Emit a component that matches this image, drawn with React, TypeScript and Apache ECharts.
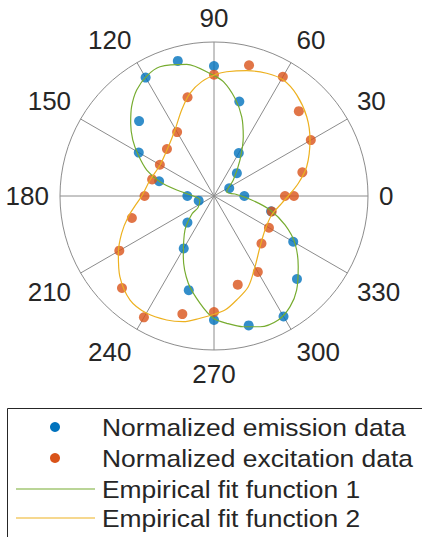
import React, { useEffect, useRef } from "react";
import * as echarts from "echarts";

// Measured emission intensities (normalized), by polarisation angle in degrees
const emissionAngles = [0, 27, 45, 60, 75, 90, 105, 120, 135, 150, 165, 180, 197, 225, 240, 255, 270, 285, 300, 315, 330, 345];
const emissionValues = [0.197, 0.111, 0.21, 0.322, 0.635, 0.844, 0.908, 0.888, 0.688, 0.564, 0.369, 0.173, 0.104, 0.244, 0.393, 0.633, 0.805, 0.87, 0.903, 0.762, 0.594, 0.384];

// Measured excitation intensities (normalized)
const excitationAngles = [0, 15, 30, 45, 60, 75, 90, 105, 120, 135, 150, 165, 180, 195, 210, 225, 240, 255, 270, 285, 300, 315, 330, 345, 360];
const excitationValues = [0.461, 0.594, 0.726, 0.779, 0.894, 0.879, 0.788, 0.664, 0.479, 0.432, 0.406, 0.416, 0.451, 0.552, 0.71, 0.845, 0.91, 0.794, 0.753, 0.596, 0.569, 0.436, 0.412, 0.388, 0.519];

// Empirical fit 1 (emission), sampled along the curve
const fit1Angles = [5.4, 18.7, 39.7, 54.2, 63.7, 70.7, 77.9, 85.3, 90.5, 101.7, 112.7, 119.3, 126.1, 132.7, 138.9, 145.4, 151.6, 158.9, 165.2, 170.9, 180, 196, 216, 219, 229.5, 243.2, 253.6, 262.6, 269.7, 275.7, 282.6, 289.4, 297.4, 304.5, 311.3, 320, 329.7, 337.8, 346, 354, 5.4];
const fit1Values = [0.137, 0.087, 0.163, 0.288, 0.429, 0.545, 0.649, 0.745, 0.785, 0.873, 0.91, 0.893, 0.852, 0.789, 0.718, 0.641, 0.559, 0.468, 0.363, 0.245, 0.134, 0.095, 0.129, 0.183, 0.29, 0.442, 0.591, 0.703, 0.794, 0.831, 0.87, 0.9, 0.907, 0.872, 0.813, 0.714, 0.609, 0.498, 0.375, 0.246, 0.137];

// Empirical fit 2 (excitation), sampled along the curve
const fit2Angles = [0, 8.6, 17.5, 30.3, 40.5, 50.7, 59.1, 66.8, 75.4, 84.2, 88.7, 96.1, 103.2, 110.6, 120.6, 132.8, 150.1, 166, 179.2, 185.4, 193.6, 202, 210.9, 220.6, 231.1, 240.2, 249.1, 256.3, 263.5, 269, 275.7, 282.3, 290.7, 300.1, 312.2, 326.3, 341.8, 353.8, 360];
const fit2Values = [0.482, 0.554, 0.631, 0.722, 0.792, 0.848, 0.877, 0.867, 0.841, 0.811, 0.792, 0.747, 0.685, 0.597, 0.498, 0.436, 0.404, 0.428, 0.465, 0.504, 0.573, 0.647, 0.724, 0.805, 0.868, 0.878, 0.862, 0.84, 0.799, 0.773, 0.743, 0.691, 0.63, 0.531, 0.445, 0.398, 0.394, 0.442, 0.482];

const seriesNames = [
  "Normalized emission data",
  "Normalized excitation data",
  "Empirical fit function 1",
  "Empirical fit function 2",
];

const BLUE = "#0072BD";
const ORANGE = "#D95319";
const GREEN = "#77AC30";
const YELLOW = "#EDB120";
const GRID = "#8c8c8c";
const TEXT = "#262626";
const FONT = '"Liberation Sans", Arial, Helvetica, sans-serif';

const toPolar = (angles: number[], values: number[]) =>
  angles.map((a, i) => [values[i], a]);

export default function App() {
  const ref = useRef<HTMLDivElement>(null);

  useEffect(() => {
    if (!ref.current) return;
    const chart = echarts.init(ref.current, undefined, { renderer: "svg" });

    const legendRows = [427, 458, 489, 518];

    chart.setOption({
      animation: false,
      backgroundColor: "#ffffff",
      polar: { center: [214, 196], radius: 154 },
      angleAxis: {
        type: "value",
        min: 0,
        max: 360,
        interval: 30,
        startAngle: 0,
        clockwise: false,
        axisLine: { show: true, lineStyle: { color: GRID, width: 1 } },
        axisTick: { show: false },
        axisLabel: {
          margin: 11,
          fontSize: 26,
          fontFamily: FONT,
          color: TEXT,
          formatter: (v: number) => (v >= 360 ? "" : String(v)),
        },
        splitLine: { show: true, lineStyle: { color: GRID, width: 1 } },
      },
      radiusAxis: {
        type: "value",
        min: 0,
        max: 1,
        axisLine: { show: false },
        axisTick: { show: false },
        axisLabel: { show: false },
        splitLine: { show: false },
      },
      series: [
        {
          name: seriesNames[0],
          type: "scatter",
          coordinateSystem: "polar",
          symbolSize: 10,
          itemStyle: { color: BLUE },
          data: toPolar(emissionAngles, emissionValues),
        },
        {
          name: seriesNames[1],
          type: "scatter",
          coordinateSystem: "polar",
          symbolSize: 10,
          itemStyle: { color: ORANGE },
          data: toPolar(excitationAngles, excitationValues),
        },
        {
          name: seriesNames[2],
          type: "line",
          coordinateSystem: "polar",
          showSymbol: false,
          symbol: "none",
          smooth: 0.3,
          lineStyle: { color: GREEN, width: 1.2 },
          data: toPolar(fit1Angles, fit1Values),
        },
        {
          name: seriesNames[3],
          type: "line",
          coordinateSystem: "polar",
          showSymbol: false,
          symbol: "none",
          smooth: 0.3,
          lineStyle: { color: YELLOW, width: 1.2 },
          data: toPolar(fit2Angles, fit2Values),
        },
      ],
      graphic: [
        {
          type: "rect",
          shape: { x: 7.5, y: 408.5, width: 430, height: 140 },
          style: { fill: "#ffffff", stroke: TEXT, lineWidth: 1 },
          z: 10,
        },
        {
          type: "circle",
          shape: { cx: 55, cy: legendRows[0], r: 5 },
          style: { fill: BLUE },
          z: 11,
        },
        {
          type: "circle",
          shape: { cx: 55, cy: legendRows[1], r: 5 },
          style: { fill: ORANGE },
          z: 11,
        },
        {
          type: "line",
          shape: { x1: 16, y1: legendRows[2], x2: 95, y2: legendRows[2] },
          style: { stroke: GREEN, lineWidth: 1.2 },
          z: 11,
        },
        {
          type: "line",
          shape: { x1: 16, y1: legendRows[3], x2: 95, y2: legendRows[3] },
          style: { stroke: YELLOW, lineWidth: 1.2 },
          z: 11,
        },
        ...seriesNames.map((name, i) => ({
          type: "text",
          x: 102,
          y: legendRows[i],
          scaleX: 1.1,
          z: 11,
          style: {
            text: name,
            fill: TEXT,
            fontSize: 24,
            fontFamily: FONT,
            align: "left",
            verticalAlign: "middle",
          },
        })),
      ],
    });

    return () => chart.dispose();
  }, []);

  return (
    <div
      ref={ref}
      style={{ position: "fixed", left: 0, top: 0, width: 422, height: 537 }}
    />
  );
}
